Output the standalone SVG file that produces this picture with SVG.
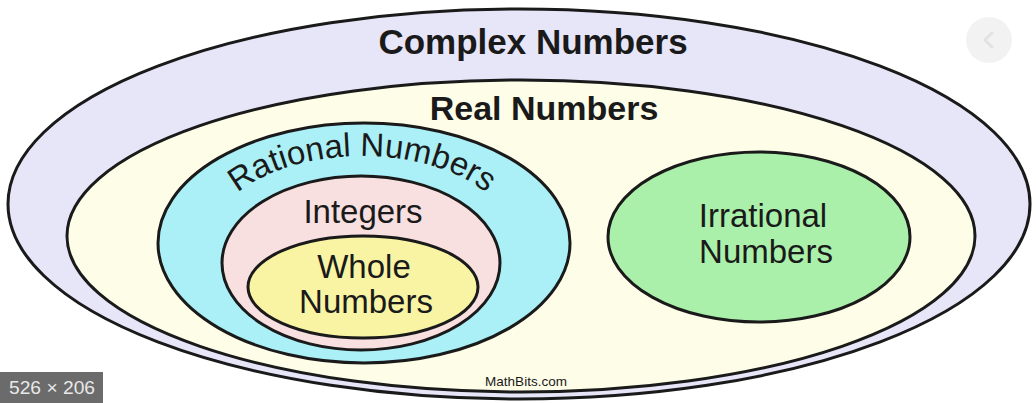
<svg xmlns="http://www.w3.org/2000/svg" width="1036" height="403" viewBox="0 0 1036 403">
<style>
.e{stroke:#1a1a1a;stroke-width:3}
.t{font-family:"Liberation Sans",Arial,sans-serif;fill:#1a1a1a;text-anchor:middle}
.b{font-weight:bold}
.m{font-size:33px}
</style>
<defs>
<path id="arc" d="M 210,243 A 152 87 0 0 1 514 243"/>
</defs>
<rect width="1036" height="403" fill="#ffffff"/>
<g id="complex">
<ellipse class="e" cx="519" cy="204" rx="511" ry="195" fill="#e7e5f8"/>
<text class="t b" x="533" y="54" font-size="35">Complex Numbers</text>
</g>
<g id="real">
<ellipse class="e" cx="521" cy="236" rx="454" ry="156" fill="#fdfde8"/>
<text class="t b" x="544" y="120" font-size="34">Real Numbers</text>
</g>
<g id="rational">
<ellipse class="e" cx="364" cy="243" rx="206" ry="120" fill="#aaf0f6"/>
<text class="t m"><textPath href="#arc" startOffset="50%">Rational Numbers</textPath></text>
</g>
<g id="integers">
<ellipse class="e" cx="361" cy="263" rx="139" ry="87" fill="#f8dfe0"/>
<text class="t m" x="363" y="223">Integers</text>
</g>
<g id="whole">
<ellipse class="e" cx="363" cy="287" rx="115" ry="51" fill="#f8f4a4"/>
<text class="t m" x="364" y="278">Whole</text>
<text class="t m" x="366" y="313">Numbers</text>
</g>
<g id="irrational">
<ellipse class="e" cx="759" cy="237" rx="151" ry="85" fill="#aaf0aa"/>
<text class="t m" x="763" y="227">Irrational</text>
<text class="t m" x="766" y="263">Numbers</text>
</g>
<g id="connectors"></g>
<text class="t" x="526" y="386" font-size="13.5" fill="#333">MathBits.com</text>
<g id="badge">
<rect x="0" y="372" width="103" height="31" fill="#6b6b6b"/>
<text x="52" y="394" font-size="18" font-family="Liberation Sans,Arial,sans-serif" fill="#e8e8e8" text-anchor="middle" textLength="86" lengthAdjust="spacingAndGlyphs">526 × 206</text>
</g>
<g id="nav">
<circle cx="989" cy="40" r="23" fill="#f2f2f2"/>
<path d="M 993,32 L 985,40 L 993,48" fill="none" stroke="#e2e2e2" stroke-width="3"/>
</g>
</svg>
